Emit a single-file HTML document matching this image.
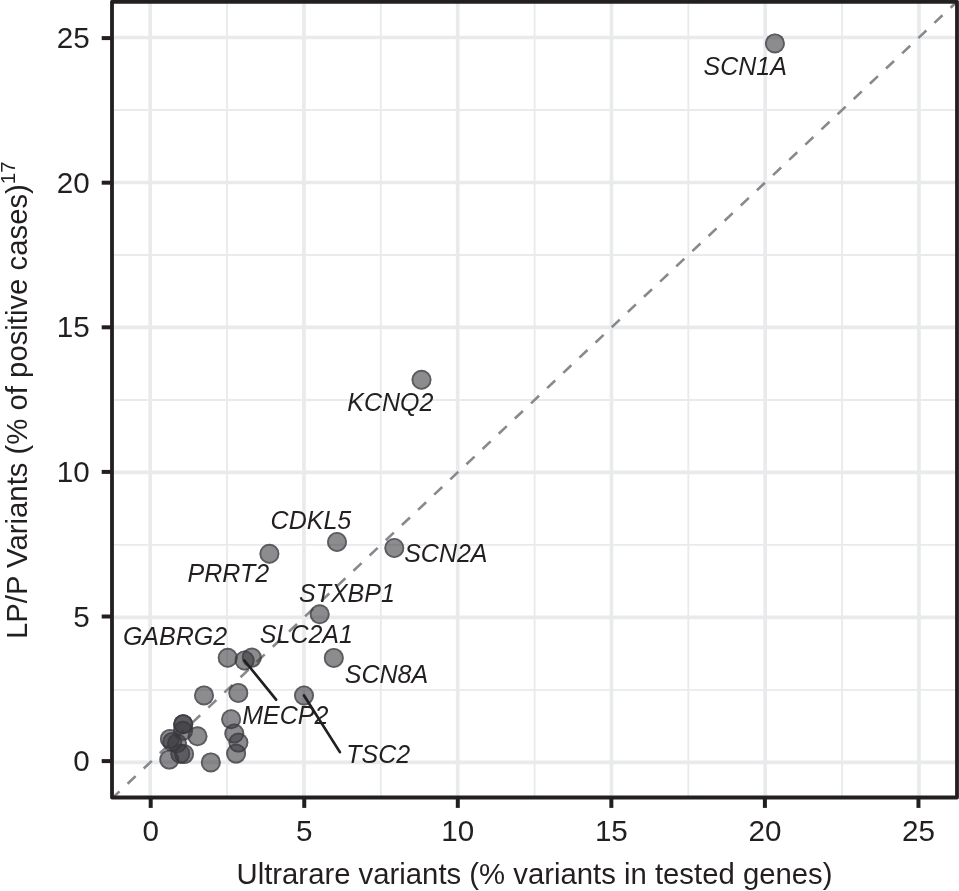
<!DOCTYPE html><html><head><meta charset="utf-8"><style>html,body{margin:0;padding:0;background:#fff;}svg{display:block;will-change:transform;}text{font-family:"Liberation Sans",sans-serif;fill:#231f20;}</style></head><body>
<svg width="959" height="891" viewBox="0 0 959 891">
<rect width="959" height="891" fill="#fff"/>
<defs><clipPath id="pc"><rect x="112.00" y="1.85" width="845.00" height="795.65"/></clipPath></defs>
<g clip-path="url(#pc)">
<line x1="227.07" y1="1.85" x2="227.07" y2="797.50" stroke="#e9eaec" stroke-width="1.85"/>
<line x1="112.00" y1="689.91" x2="957.00" y2="689.91" stroke="#e9eaec" stroke-width="1.85"/>
<line x1="380.82" y1="1.85" x2="380.82" y2="797.50" stroke="#e9eaec" stroke-width="1.85"/>
<line x1="112.00" y1="544.93" x2="957.00" y2="544.93" stroke="#e9eaec" stroke-width="1.85"/>
<line x1="534.58" y1="1.85" x2="534.58" y2="797.50" stroke="#e9eaec" stroke-width="1.85"/>
<line x1="112.00" y1="399.95" x2="957.00" y2="399.95" stroke="#e9eaec" stroke-width="1.85"/>
<line x1="688.33" y1="1.85" x2="688.33" y2="797.50" stroke="#e9eaec" stroke-width="1.85"/>
<line x1="112.00" y1="254.97" x2="957.00" y2="254.97" stroke="#e9eaec" stroke-width="1.85"/>
<line x1="842.08" y1="1.85" x2="842.08" y2="797.50" stroke="#e9eaec" stroke-width="1.85"/>
<line x1="112.00" y1="109.99" x2="957.00" y2="109.99" stroke="#e9eaec" stroke-width="1.85"/>
<line x1="150.20" y1="1.85" x2="150.20" y2="797.50" stroke="#e9eaec" stroke-width="3.7"/>
<line x1="112.00" y1="762.40" x2="957.00" y2="762.40" stroke="#e9eaec" stroke-width="3.7"/>
<line x1="303.95" y1="1.85" x2="303.95" y2="797.50" stroke="#e9eaec" stroke-width="3.7"/>
<line x1="112.00" y1="617.42" x2="957.00" y2="617.42" stroke="#e9eaec" stroke-width="3.7"/>
<line x1="457.70" y1="1.85" x2="457.70" y2="797.50" stroke="#e9eaec" stroke-width="3.7"/>
<line x1="112.00" y1="472.44" x2="957.00" y2="472.44" stroke="#e9eaec" stroke-width="3.7"/>
<line x1="611.45" y1="1.85" x2="611.45" y2="797.50" stroke="#e9eaec" stroke-width="3.7"/>
<line x1="112.00" y1="327.46" x2="957.00" y2="327.46" stroke="#e9eaec" stroke-width="3.7"/>
<line x1="765.20" y1="1.85" x2="765.20" y2="797.50" stroke="#e9eaec" stroke-width="3.7"/>
<line x1="112.00" y1="182.48" x2="957.00" y2="182.48" stroke="#e9eaec" stroke-width="3.7"/>
<line x1="918.95" y1="1.85" x2="918.95" y2="797.50" stroke="#e9eaec" stroke-width="3.7"/>
<line x1="112.00" y1="37.50" x2="957.00" y2="37.50" stroke="#e9eaec" stroke-width="3.7"/>
<line x1="112.00" y1="798.42" x2="958.92" y2="-0.19" stroke="#88898d" stroke-width="2.6" stroke-dasharray="11.09 11.09" stroke-dashoffset="0.78"/>
<circle cx="774.9" cy="43.4" r="10" fill="rgb(56,57,62)" fill-opacity="0.580"/>
<circle cx="774.9" cy="43.4" r="9.05" fill="none" stroke="rgb(56,57,62)" stroke-opacity="0.580" stroke-width="1.8"/>
<circle cx="421.5" cy="379.8" r="10" fill="rgb(56,57,62)" fill-opacity="0.580"/>
<circle cx="421.5" cy="379.8" r="9.05" fill="none" stroke="rgb(56,57,62)" stroke-opacity="0.580" stroke-width="1.8"/>
<circle cx="337.0" cy="542.0" r="10" fill="rgb(56,57,62)" fill-opacity="0.580"/>
<circle cx="337.0" cy="542.0" r="9.05" fill="none" stroke="rgb(56,57,62)" stroke-opacity="0.580" stroke-width="1.8"/>
<circle cx="394.3" cy="548.0" r="10" fill="rgb(56,57,62)" fill-opacity="0.580"/>
<circle cx="394.3" cy="548.0" r="9.05" fill="none" stroke="rgb(56,57,62)" stroke-opacity="0.580" stroke-width="1.8"/>
<circle cx="269.4" cy="553.8" r="10" fill="rgb(56,57,62)" fill-opacity="0.580"/>
<circle cx="269.4" cy="553.8" r="9.05" fill="none" stroke="rgb(56,57,62)" stroke-opacity="0.580" stroke-width="1.8"/>
<circle cx="319.7" cy="614.3" r="10" fill="rgb(56,57,62)" fill-opacity="0.580"/>
<circle cx="319.7" cy="614.3" r="9.05" fill="none" stroke="rgb(56,57,62)" stroke-opacity="0.580" stroke-width="1.8"/>
<circle cx="333.8" cy="657.9" r="10" fill="rgb(56,57,62)" fill-opacity="0.580"/>
<circle cx="333.8" cy="657.9" r="9.05" fill="none" stroke="rgb(56,57,62)" stroke-opacity="0.580" stroke-width="1.8"/>
<circle cx="227.7" cy="657.8" r="10" fill="rgb(56,57,62)" fill-opacity="0.580"/>
<circle cx="227.7" cy="657.8" r="9.05" fill="none" stroke="rgb(56,57,62)" stroke-opacity="0.580" stroke-width="1.8"/>
<circle cx="244.6" cy="660.5" r="10" fill="rgb(56,57,62)" fill-opacity="0.580"/>
<circle cx="244.6" cy="660.5" r="9.05" fill="none" stroke="rgb(56,57,62)" stroke-opacity="0.580" stroke-width="1.8"/>
<circle cx="251.8" cy="657.6" r="10" fill="rgb(56,57,62)" fill-opacity="0.580"/>
<circle cx="251.8" cy="657.6" r="9.05" fill="none" stroke="rgb(56,57,62)" stroke-opacity="0.580" stroke-width="1.8"/>
<circle cx="304.0" cy="695.5" r="10" fill="rgb(56,57,62)" fill-opacity="0.580"/>
<circle cx="304.0" cy="695.5" r="9.05" fill="none" stroke="rgb(56,57,62)" stroke-opacity="0.580" stroke-width="1.8"/>
<circle cx="204.0" cy="695.4" r="10" fill="rgb(56,57,62)" fill-opacity="0.580"/>
<circle cx="204.0" cy="695.4" r="9.05" fill="none" stroke="rgb(56,57,62)" stroke-opacity="0.580" stroke-width="1.8"/>
<circle cx="238.3" cy="692.9" r="10" fill="rgb(56,57,62)" fill-opacity="0.580"/>
<circle cx="238.3" cy="692.9" r="9.05" fill="none" stroke="rgb(56,57,62)" stroke-opacity="0.580" stroke-width="1.8"/>
<circle cx="231.1" cy="719.2" r="10" fill="rgb(56,57,62)" fill-opacity="0.580"/>
<circle cx="231.1" cy="719.2" r="9.05" fill="none" stroke="rgb(56,57,62)" stroke-opacity="0.580" stroke-width="1.8"/>
<circle cx="234.3" cy="733.5" r="10" fill="rgb(56,57,62)" fill-opacity="0.580"/>
<circle cx="234.3" cy="733.5" r="9.05" fill="none" stroke="rgb(56,57,62)" stroke-opacity="0.580" stroke-width="1.8"/>
<circle cx="238.4" cy="742.6" r="10" fill="rgb(56,57,62)" fill-opacity="0.580"/>
<circle cx="238.4" cy="742.6" r="9.05" fill="none" stroke="rgb(56,57,62)" stroke-opacity="0.580" stroke-width="1.8"/>
<circle cx="236.1" cy="753.6" r="10" fill="rgb(56,57,62)" fill-opacity="0.580"/>
<circle cx="236.1" cy="753.6" r="9.05" fill="none" stroke="rgb(56,57,62)" stroke-opacity="0.580" stroke-width="1.8"/>
<circle cx="210.8" cy="762.4" r="10" fill="rgb(56,57,62)" fill-opacity="0.580"/>
<circle cx="210.8" cy="762.4" r="9.05" fill="none" stroke="rgb(56,57,62)" stroke-opacity="0.580" stroke-width="1.8"/>
<circle cx="197.5" cy="736.3" r="10" fill="rgb(56,57,62)" fill-opacity="0.580"/>
<circle cx="197.5" cy="736.3" r="9.05" fill="none" stroke="rgb(56,57,62)" stroke-opacity="0.580" stroke-width="1.8"/>
<circle cx="183.2" cy="724.2" r="10" fill="rgb(56,57,62)" fill-opacity="0.580"/>
<circle cx="183.2" cy="724.2" r="9.05" fill="none" stroke="rgb(56,57,62)" stroke-opacity="0.580" stroke-width="1.8"/>
<circle cx="183.2" cy="724.2" r="10" fill="rgb(56,57,62)" fill-opacity="0.580"/>
<circle cx="183.2" cy="724.2" r="9.05" fill="none" stroke="rgb(56,57,62)" stroke-opacity="0.580" stroke-width="1.8"/>
<circle cx="183.0" cy="730.8" r="10" fill="rgb(56,57,62)" fill-opacity="0.580"/>
<circle cx="183.0" cy="730.8" r="9.05" fill="none" stroke="rgb(56,57,62)" stroke-opacity="0.580" stroke-width="1.8"/>
<circle cx="169.9" cy="738.9" r="10" fill="rgb(56,57,62)" fill-opacity="0.580"/>
<circle cx="169.9" cy="738.9" r="9.05" fill="none" stroke="rgb(56,57,62)" stroke-opacity="0.580" stroke-width="1.8"/>
<circle cx="172.3" cy="741.9" r="10" fill="rgb(56,57,62)" fill-opacity="0.580"/>
<circle cx="172.3" cy="741.9" r="9.05" fill="none" stroke="rgb(56,57,62)" stroke-opacity="0.580" stroke-width="1.8"/>
<circle cx="177.0" cy="743.3" r="10" fill="rgb(56,57,62)" fill-opacity="0.580"/>
<circle cx="177.0" cy="743.3" r="9.05" fill="none" stroke="rgb(56,57,62)" stroke-opacity="0.580" stroke-width="1.8"/>
<circle cx="169.3" cy="759.6" r="10" fill="rgb(56,57,62)" fill-opacity="0.580"/>
<circle cx="169.3" cy="759.6" r="9.05" fill="none" stroke="rgb(56,57,62)" stroke-opacity="0.580" stroke-width="1.8"/>
<circle cx="180.3" cy="753.7" r="10" fill="rgb(56,57,62)" fill-opacity="0.580"/>
<circle cx="180.3" cy="753.7" r="9.05" fill="none" stroke="rgb(56,57,62)" stroke-opacity="0.580" stroke-width="1.8"/>
<circle cx="184.1" cy="754.1" r="10" fill="rgb(56,57,62)" fill-opacity="0.580"/>
<circle cx="184.1" cy="754.1" r="9.05" fill="none" stroke="rgb(56,57,62)" stroke-opacity="0.580" stroke-width="1.8"/>
<line x1="244.4" y1="660.5" x2="276.1" y2="699.7" stroke="#231f20" stroke-width="2.7" stroke-linecap="round"/>
<line x1="304.0" y1="695.5" x2="339.9" y2="752.1" stroke="#231f20" stroke-width="2.7" stroke-linecap="round"/>
<text x="703.50" y="75.30" font-size="25.00" font-style="italic">SCN1A</text>
<text x="347.33" y="411.10" font-size="25.00" font-style="italic">KCNQ2</text>
<text x="270.62" y="528.50" font-size="25.00" font-style="italic">CDKL5</text>
<text x="404.20" y="561.60" font-size="25.00" font-style="italic">SCN2A</text>
<text x="187.62" y="582.00" font-size="25.00" font-style="italic">PRRT2</text>
<text x="299.00" y="601.60" font-size="25.00" font-style="italic">STXBP1</text>
<text x="122.88" y="645.00" font-size="25.00" font-style="italic">GABRG2</text>
<text x="259.80" y="643.30" font-size="25.00" font-style="italic">SLC2A1</text>
<text x="344.80" y="683.20" font-size="25.00" font-style="italic">SCN8A</text>
<text x="242.22" y="724.10" font-size="25.00" font-style="italic">MECP2</text>
<text x="346.35" y="762.80" font-size="25.00" font-style="italic">TSC2</text>
</g>
<rect x="112.00" y="1.85" width="845.00" height="795.65" fill="none" stroke="#231f20" stroke-width="3.8" stroke-linejoin="round"/>
<line x1="112.00" y1="761.10" x2="101.70" y2="761.10" stroke="#231f20" stroke-width="4"/>
<line x1="150.70" y1="797.50" x2="150.70" y2="807.90" stroke="#231f20" stroke-width="4"/>
<line x1="112.00" y1="616.50" x2="101.70" y2="616.50" stroke="#231f20" stroke-width="4"/>
<line x1="304.25" y1="797.50" x2="304.25" y2="807.90" stroke="#231f20" stroke-width="4"/>
<line x1="112.00" y1="471.90" x2="101.70" y2="471.90" stroke="#231f20" stroke-width="4"/>
<line x1="457.80" y1="797.50" x2="457.80" y2="807.90" stroke="#231f20" stroke-width="4"/>
<line x1="112.00" y1="327.30" x2="101.70" y2="327.30" stroke="#231f20" stroke-width="4"/>
<line x1="611.35" y1="797.50" x2="611.35" y2="807.90" stroke="#231f20" stroke-width="4"/>
<line x1="112.00" y1="182.70" x2="101.70" y2="182.70" stroke="#231f20" stroke-width="4"/>
<line x1="764.90" y1="797.50" x2="764.90" y2="807.90" stroke="#231f20" stroke-width="4"/>
<line x1="112.00" y1="38.10" x2="101.70" y2="38.10" stroke="#231f20" stroke-width="4"/>
<line x1="918.45" y1="797.50" x2="918.45" y2="807.90" stroke="#231f20" stroke-width="4"/>
<text x="89.7" y="771.20" font-size="29.60" text-anchor="end">0</text>
<text x="150.70" y="841.2" font-size="29.60" text-anchor="middle">0</text>
<text x="89.7" y="626.60" font-size="29.60" text-anchor="end">5</text>
<text x="304.25" y="841.2" font-size="29.60" text-anchor="middle">5</text>
<text x="89.7" y="482.00" font-size="29.60" text-anchor="end">10</text>
<text x="457.80" y="841.2" font-size="29.60" text-anchor="middle">10</text>
<text x="89.7" y="337.40" font-size="29.60" text-anchor="end">15</text>
<text x="611.35" y="841.2" font-size="29.60" text-anchor="middle">15</text>
<text x="89.7" y="192.80" font-size="29.60" text-anchor="end">20</text>
<text x="764.90" y="841.2" font-size="29.60" text-anchor="middle">20</text>
<text x="89.7" y="48.20" font-size="29.60" text-anchor="end">25</text>
<text x="918.45" y="841.2" font-size="29.60" text-anchor="middle">25</text>
<text x="534.50" y="884.1" font-size="29.30" text-anchor="middle">Ultrarare variants (% variants in tested genes)</text>
<text transform="translate(27.4,639.0) rotate(-90)" x="0" y="0" font-size="29.30">LP/P Variants (% of positive cases)<tspan font-size="20.51" dy="-12.6">17</tspan></text>
</svg></body></html>
